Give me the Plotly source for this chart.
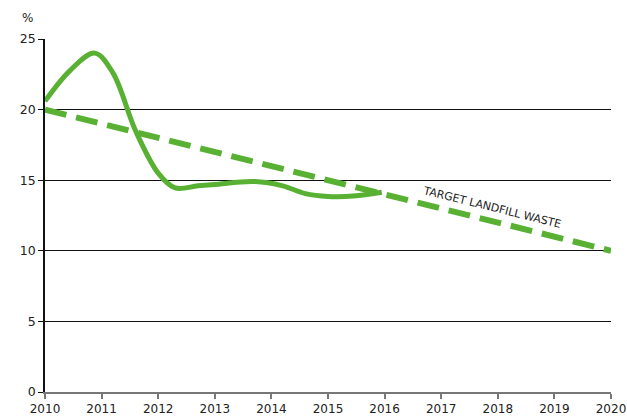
import plotly.graph_objects as go

actual_years = [2010.0, 2010.45, 2010.88, 2011.2, 2011.6, 2012.0, 2012.3, 2012.7,
                2013.0, 2013.7, 2014.2, 2014.6, 2015.0, 2015.5, 2015.95]
actual_values = [20.6, 22.8, 24.0, 22.6, 18.5, 15.5, 14.45, 14.6,
                 14.7, 14.9, 14.6, 14.05, 13.85, 13.9, 14.15]

# Target line
target_years = [2010, 2020]
target_values = [20, 10]

x_ticks = list(range(2010, 2021))
y_ticks = [0, 5, 10, 15, 20, 25]

GREEN = "#58B133"
FONT = "DejaVu Sans"

fig = go.Figure()
fig.add_trace(go.Scatter(x=actual_years, y=actual_values, mode="lines",
                         line=dict(color=GREEN, width=5, shape="spline", smoothing=1.0),
                         hoverinfo="skip", showlegend=False, cliponaxis=False))
fig.add_trace(go.Scatter(x=target_years, y=target_values, mode="lines",
                         line=dict(color=GREEN, width=6, dash="22px,10px"),
                         hoverinfo="skip", showlegend=False, cliponaxis=False))

fig.add_annotation(x=2017.9, y=13.1, text="TARGET LANDFILL WASTE", showarrow=False,
                   textangle=14, font=dict(family=FONT, size=11, color="#222"))
fig.add_annotation(x=0, xref="paper", xanchor="right", xshift=-10,
                   y=1, yref="paper", yanchor="bottom", yshift=12,
                   text="%", showarrow=False, font=dict(family=FONT, size=12, color="#222"))

fig.update_layout(
    width=627, height=416,
    margin=dict(l=45, r=16, t=39, b=24),
    paper_bgcolor="white", plot_bgcolor="white",
    font=dict(family=FONT, size=12.5, color="#222"),
    xaxis=dict(range=[2010, 2020], tickvals=x_ticks, ticktext=[str(t) for t in x_ticks],
               showgrid=False, zeroline=False, showline=True, linecolor="#777", linewidth=2,
               ticks="outside", ticklen=5, tickcolor="#777", tickwidth=1.5, automargin=False,
               tickfont=dict(size=12), ticklabeloverflow="allow"),
    yaxis=dict(range=[0, 25], tickvals=y_ticks, showgrid=True, gridcolor="#111", gridwidth=1,
               zeroline=False, showline=True, linecolor="#111", linewidth=1.5,
               ticks="outside", ticklen=5, tickcolor="#111", automargin=False),
)

fig.write_html("out.html", config={"displayModeBar": False},
               post_script="document.body.style.margin='0';document.body.style.overflow='hidden';")
